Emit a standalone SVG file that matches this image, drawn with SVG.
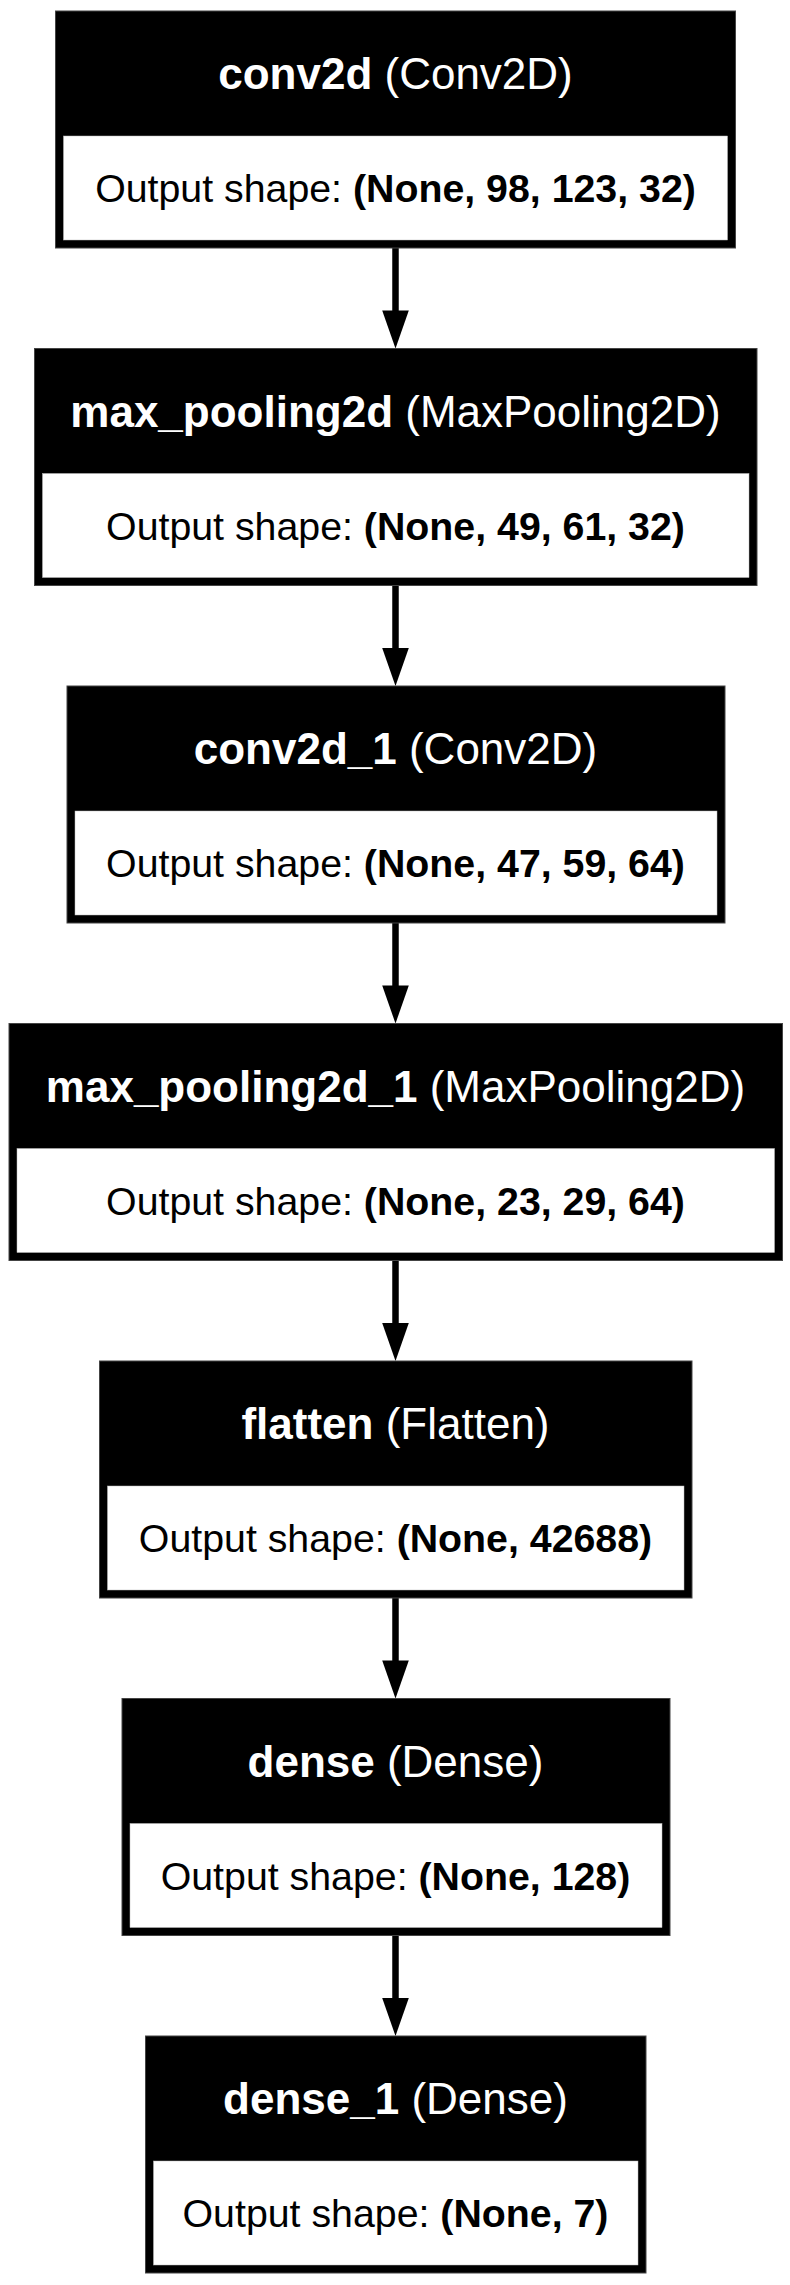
<svg xmlns="http://www.w3.org/2000/svg" width="790" height="2285" viewBox="0 0 790 2285">
<style>
.outer{fill:#000;stroke:#444;stroke-width:1}
.inner{fill:#fff;stroke:#bbb;stroke-width:0.5}
.title{font-family:"Liberation Sans",Arial,sans-serif;font-size:44px;fill:#fff;text-anchor:middle}
.sub{font-family:"Liberation Sans",Arial,sans-serif;font-size:39.3px;fill:#000;text-anchor:middle}
.b{font-weight:bold}
.shaft{stroke:#000;stroke-width:6.5;fill:none}
.head{fill:#000;stroke:none}
</style>
<rect width="790" height="2285" fill="#fff"/>
<g id="connectors">
  <line class="shaft" x1="395.5" y1="248" x2="395.5" y2="311"/>
  <polygon class="head" points="382.2,310.5 408.8,310.5 395.5,348.5"/>
  <line class="shaft" x1="395.5" y1="585.5" x2="395.5" y2="648.5"/>
  <polygon class="head" points="382.2,648 408.8,648 395.5,686"/>
  <line class="shaft" x1="395.5" y1="923" x2="395.5" y2="986"/>
  <polygon class="head" points="382.2,985.5 408.8,985.5 395.5,1023.5"/>
  <line class="shaft" x1="395.5" y1="1260.5" x2="395.5" y2="1323.5"/>
  <polygon class="head" points="382.2,1323 408.8,1323 395.5,1361"/>
  <line class="shaft" x1="395.5" y1="1598" x2="395.5" y2="1661"/>
  <polygon class="head" points="382.2,1660.5 408.8,1660.5 395.5,1698.5"/>
  <line class="shaft" x1="395.5" y1="1935.5" x2="395.5" y2="1998.5"/>
  <polygon class="head" points="382.2,1998 408.8,1998 395.5,2036"/>
</g>
<g id="conv2d">
  <rect class="outer" x="55.5" y="11" width="680" height="237"/>
  <rect class="inner" x="63.5" y="136" width="664" height="104"/>
  <text class="title" x="395.5" y="89"><tspan class="b">conv2d</tspan> (Conv2D)</text>
  <text class="sub" x="395.5" y="202">Output shape: <tspan class="b">(None, 98, 123, 32)</tspan></text>
</g>
<g id="max_pooling2d">
  <rect class="outer" x="34.5" y="348.5" width="722.5" height="237"/>
  <rect class="inner" x="42.5" y="473.5" width="706.5" height="104"/>
  <text class="title" x="395.5" y="426.5"><tspan class="b">max_pooling2d</tspan> (MaxPooling2D)</text>
  <text class="sub" x="395.5" y="539.5">Output shape: <tspan class="b">(None, 49, 61, 32)</tspan></text>
</g>
<g id="conv2d_1">
  <rect class="outer" x="67" y="686" width="658" height="237"/>
  <rect class="inner" x="75" y="811" width="642" height="104"/>
  <text class="title" x="395.5" y="764"><tspan class="b">conv2d_1</tspan> (Conv2D)</text>
  <text class="sub" x="395.5" y="877">Output shape: <tspan class="b">(None, 47, 59, 64)</tspan></text>
</g>
<g id="max_pooling2d_1">
  <rect class="outer" x="9" y="1023.5" width="773.5" height="237"/>
  <rect class="inner" x="17" y="1148.5" width="757.5" height="104"/>
  <text class="title" x="395.5" y="1101.5"><tspan class="b">max_pooling2d_1</tspan> (MaxPooling2D)</text>
  <text class="sub" x="395.5" y="1214.5">Output shape: <tspan class="b">(None, 23, 29, 64)</tspan></text>
</g>
<g id="flatten">
  <rect class="outer" x="99.5" y="1361" width="592.5" height="237"/>
  <rect class="inner" x="107.5" y="1486" width="576.5" height="104"/>
  <text class="title" x="395.5" y="1439"><tspan class="b">flatten</tspan> (Flatten)</text>
  <text class="sub" x="395.5" y="1552">Output shape: <tspan class="b">(None, 42688)</tspan></text>
</g>
<g id="dense">
  <rect class="outer" x="122" y="1698.5" width="548" height="237"/>
  <rect class="inner" x="130" y="1823.5" width="532" height="104"/>
  <text class="title" x="395.5" y="1776.5"><tspan class="b">dense</tspan> (Dense)</text>
  <text class="sub" x="395.5" y="1889.5">Output shape: <tspan class="b">(None, 128)</tspan></text>
</g>
<g id="dense_1">
  <rect class="outer" x="145.5" y="2036" width="500.5" height="237"/>
  <rect class="inner" x="153.5" y="2161" width="484.5" height="104"/>
  <text class="title" x="395.5" y="2114"><tspan class="b">dense_1</tspan> (Dense)</text>
  <text class="sub" x="395.5" y="2227">Output shape: <tspan class="b">(None, 7)</tspan></text>
</g>
</svg>
